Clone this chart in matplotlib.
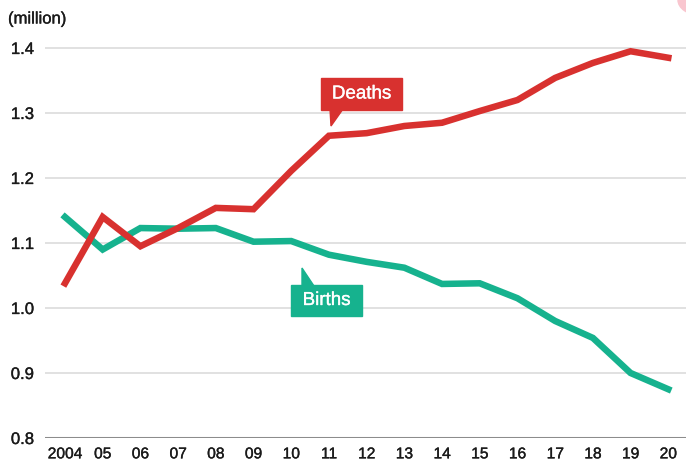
import matplotlib
matplotlib.use("Agg")
import matplotlib.pyplot as plt
import matplotlib.patheffects as pe
from matplotlib.patches import Circle

plt.rcParams['font.family'] = ['Liberation Sans', 'DejaVu Sans']

years = list(range(2004, 2021))
year_labels = ["2004", "05", "06", "07", "08", "09", "10", "11", "12",
               "13", "14", "15", "16", "17", "18", "19", "20"]
deaths = [1.038, 1.140, 1.095, 1.123, 1.154, 1.152, 1.211, 1.265, 1.269,
          1.280, 1.285, 1.303, 1.320, 1.354, 1.377, 1.395, 1.385]
births = [1.140, 1.090, 1.123, 1.122, 1.123, 1.102, 1.103, 1.082, 1.071,
          1.062, 1.037, 1.038, 1.015, 0.980, 0.954, 0.900, 0.875]
yticks = [0.8, 0.9, 1.0, 1.1, 1.2, 1.3, 1.4]

RED = "#d8312f"
GREEN = "#16b28e"
TXT = "#1a1a1a"
W, H = 686, 469
thick = [pe.withStroke(linewidth=0.25, foreground=TXT)]

fig = plt.figure(figsize=(W / 100, H / 100), dpi=100)
# axes box in pixels: left 45, right 686, bottom y=438, top y=30
ax = fig.add_axes([45 / W, (H - 438) / H, (686 - 45) / W, (438 - 30) / H])
ax.set_xlim(2003.47, 2020.47)
ax.set_ylim(0.8, 0.8 + 408 / 650)

for t in yticks[1:]:
    ax.axhline(t, color="#dcdcdc", lw=1.2, zorder=1)
ax.axhline(0.8, color="#8c8c8c", lw=2.2, zorder=1)

ax.plot(years, births, color=GREEN, lw=4.7, solid_joinstyle="miter", zorder=3)
ax.plot(years, deaths, color=RED, lw=4.7, solid_joinstyle="miter", zorder=4)

for s in ax.spines.values():
    s.set_visible(False)
ax.set_yticks(yticks)
ax.set_yticklabels([f"{t:.1f}" for t in yticks], fontsize=12, color=TXT)
ax.set_xticks(years)
ax.set_xticklabels(year_labels, fontsize=11.2, color=TXT)
ax.tick_params(length=0, axis="y", pad=8)
ax.tick_params(length=0, axis="x", pad=6)
for lab in ax.get_yticklabels() + ax.get_xticklabels():
    lab.set_path_effects(thick)

fig.text(8 / W, 1 - 19 / H, "(million)", fontsize=12, color=TXT, va="center",
         path_effects=thick)


def callout(text, box, tip, base, color):
    # box = (x0, y0, x1, y1) pixel coords (top-left origin); tip/base in pixels
    x0, y0, x1, y1 = box
    fig.patches.append(plt.Rectangle((x0 / W, 1 - y1 / H), (x1 - x0) / W, (y1 - y0) / H,
                                     transform=fig.transFigure, color=color, zorder=5))
    bx0, bx1, by = base
    tri = plt.Polygon([(bx0 / W, 1 - by / H), (bx1 / W, 1 - by / H), (tip[0] / W, 1 - tip[1] / H)],
                      closed=True, transform=fig.transFigure, color=color, zorder=5)
    fig.patches.append(tri)
    fig.text((x0 + x1) / 2 / W, 1 - (y0 + y1) / 2 / H, text, color="white",
             fontsize=13.5, ha="center", va="center", zorder=6,
             path_effects=[pe.withStroke(linewidth=0.25, foreground="white")])


callout("Deaths", (321, 78, 402, 110), (331, 126), (330, 343, 109), RED)
callout("Births", (291, 285, 362, 316), (302, 268), (302, 314, 286), GREEN)

fig.patches.append(Circle((700 / W, 1 - 0 / H), 22 / W, transform=fig.transFigure,
                          color="#f9c6cf", zorder=0))

fig.savefig("out.png", dpi=100)
